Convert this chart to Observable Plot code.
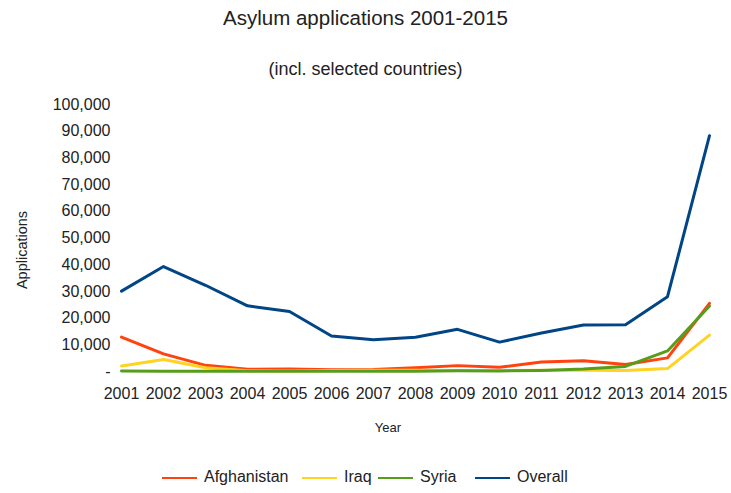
<!DOCTYPE html>
<html>
<head>
<meta charset="utf-8">
<script src="https://cdn.jsdelivr.net/npm/d3@7"></script>
<script src="https://cdn.jsdelivr.net/npm/@observablehq/plot@0.6"></script>
<style>
  body { margin: 0; background: #fff; }
  #wrap { position: relative; width: 731px; height: 493px; font-family: "Liberation Sans", Arial, sans-serif; color: #222; overflow: hidden; }
  .abs { position: absolute; white-space: nowrap; }
  #chart { position: absolute; left: 0; top: 90px; }
  .sw { position: absolute; height: 2px; width: 35px; }
</style>
</head>
<body>
<div id="wrap">
  <div class="abs" style="left:0;width:731px;top:6px;text-align:center;font-size:20.5px;">Asylum applications 2001-2015</div>
  <div class="abs" style="left:0;width:731px;top:59px;text-align:center;font-size:18px;">(incl. selected countries)</div>
  <div class="abs" style="left:-78px;top:242px;width:200px;text-align:center;font-size:14.5px;transform:rotate(-90deg);">Applications</div>
  <div id="chart"></div>
  <div class="abs" style="left:288px;width:200px;top:420px;text-align:center;font-size:13px;">Year</div>
  <div id="legend"></div>
</div>
<script>
const years = [2001, 2002, 2003, 2004, 2005, 2006, 2007, 2008, 2009, 2010, 2011, 2012, 2013, 2014, 2015];
const afghanistan = [12900, 6600, 2300, 800, 900, 700, 750, 1400, 2200, 1600, 3600, 4000, 2600, 5100, 25500];
const iraq = [2100, 4500, 1400, 250, 230, 380, 470, 460, 400, 350, 500, 490, 400, 1100, 13600];
const syria = [150, 100, 80, 60, 80, 100, 90, 100, 300, 200, 400, 900, 1900, 7700, 24500];
const overall = [30100, 39300, 32300, 24600, 22500, 13300, 11900, 12800, 15800, 11000, 14400, 17400, 17500, 28000, 88300];
const seriesNames = ["Afghanistan", "Iraq", "Syria", "Overall"];
const seriesColors = ["#ff420e", "#ffd320", "#579d1c", "#004586"];
const yTicks = [0, 10000, 20000, 30000, 40000, 50000, 60000, 70000, 80000, 90000, 100000];

const seriesValues = [afghanistan, iraq, syria, overall];
const data = [];
seriesNames.forEach((name, i) => {
  years.forEach((yr, j) => data.push({series: name, year: String(yr), value: seriesValues[i][j]}));
});

const fmt = d3.format(",");
const chart = Plot.plot({
  width: 731,
  height: 330,
  marginLeft: 120,
  marginRight: 22,
  marginTop: 14,
  marginBottom: 49,
  style: {fontFamily: "'Liberation Sans', Arial, sans-serif", color: "#222", background: "transparent"},
  x: {type: "point", domain: years.map(String), padding: 0},
  y: {domain: [0, 100000]},
  color: {domain: seriesNames, range: seriesColors},
  marks: [
    Plot.axisX({tickSize: 0, tickPadding: 16, fontSize: 16, label: null}),
    Plot.axisY({ticks: yTicks, tickSize: 0, tickPadding: 10, fontSize: 16, label: null,
      tickFormat: d => d === 0 ? "-" : fmt(d)}),
    Plot.line(data, {x: "year", y: "value", z: "series", stroke: "series", strokeWidth: 3, curve: "linear"})
  ]
});
document.getElementById("chart").appendChild(chart);

// legend
const legend = document.getElementById("legend");
const legendX = [162, 302, 378, 475];
seriesNames.forEach((name, i) => {
  const sw = document.createElement("div");
  sw.className = "sw";
  sw.style.left = legendX[i] + "px";
  sw.style.top = "477px";
  sw.style.background = seriesColors[i];
  legend.appendChild(sw);
  const t = document.createElement("div");
  t.className = "abs";
  t.style.left = (legendX[i] + 42) + "px";
  t.style.top = "468px";
  t.style.fontSize = "16px";
  t.textContent = name;
  legend.appendChild(t);
});
</script>
</body>
</html>
